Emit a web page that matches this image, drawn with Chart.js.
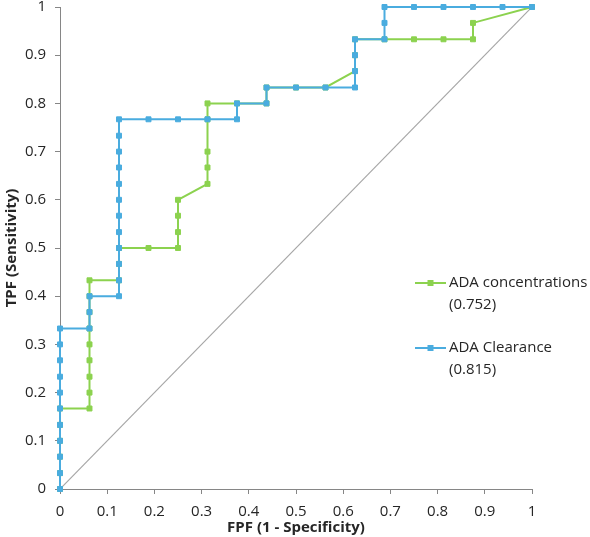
<!DOCTYPE html>
<html>
<head>
<meta charset="utf-8">
<script src="https://cdn.jsdelivr.net/npm/chart.js@4.4.1/dist/chart.umd.min.js"></script>
<style>
  html, body { margin: 0; padding: 0; background: #ffffff; }
  #wrap { width: 590px; height: 537px; position: relative; }
</style>
</head>
<body>
<div id="wrap"><canvas id="c" width="590" height="537"></canvas></div>
<script>
// ---- Data ----
const legendConc = ["ADA concentrations", "(0.752)"];
const legendClear = ["ADA Clearance", "(0.815)"];
const xAxisTitle = "FPF (1 - Specificity)";
const yAxisTitle = "TPF (Sensitivity)";
const tickValues = [0, 0.1, 0.2, 0.3, 0.4, 0.5, 0.6, 0.7, 0.8, 0.9, 1];
const tickLabels = ["0", "0.1", "0.2", "0.3", "0.4", "0.5", "0.6", "0.7", "0.8", "0.9", "1"];

const fprConc = [0, 0, 0, 0, 0, 0, 0.0625, 0.0625, 0.0625, 0.0625, 0.0625, 0.0625, 0.0625, 0.0625, 0.0625,
  0.125, 0.125, 0.125, 0.1875, 0.25, 0.25, 0.25, 0.25, 0.3125, 0.3125, 0.3125, 0.3125, 0.3125,
  0.375, 0.4375, 0.4375, 0.5, 0.5625, 0.625, 0.625, 0.625, 0.6875, 0.75, 0.8125, 0.875, 0.875, 1];
const tprConc = [0, 0.033, 0.067, 0.1, 0.133, 0.167, 0.167, 0.2, 0.233, 0.267, 0.3, 0.333, 0.367, 0.4, 0.433,
  0.433, 0.467, 0.5, 0.5, 0.5, 0.533, 0.567, 0.6, 0.633, 0.667, 0.7, 0.767, 0.8,
  0.8, 0.8, 0.833, 0.833, 0.833, 0.867, 0.9, 0.933, 0.933, 0.933, 0.933, 0.933, 0.967, 1];

const fprClear = [0, 0, 0, 0, 0, 0, 0, 0, 0, 0, 0, 0.0625, 0.0625, 0.0625,
  0.125, 0.125, 0.125, 0.125, 0.125, 0.125, 0.125, 0.125, 0.125, 0.125, 0.125, 0.125,
  0.1875, 0.25, 0.3125, 0.375, 0.375, 0.4375, 0.4375, 0.5, 0.5625, 0.625, 0.625, 0.625, 0.625,
  0.6875, 0.6875, 0.6875, 0.75, 0.8125, 0.875, 0.9375, 1];
const tprClear = [0, 0.033, 0.067, 0.1, 0.133, 0.167, 0.2, 0.233, 0.267, 0.3, 0.333, 0.333, 0.367, 0.4,
  0.4, 0.433, 0.467, 0.5, 0.533, 0.567, 0.6, 0.633, 0.667, 0.7, 0.733, 0.767,
  0.767, 0.767, 0.767, 0.767, 0.8, 0.8, 0.833, 0.833, 0.833, 0.833, 0.867, 0.9, 0.933,
  0.933, 0.967, 1, 1, 1, 1, 1, 1];

const diagX = [0, 1];
const diagY = [0, 1];

// ---- Styles ----
const GREEN = "#8CD24F";
const BLUE = "#4AACDF";
const AXIS = "#868686";
const TEXT = "#262626";
const FONT = "'Open Sans', 'DejaVu Sans', sans-serif";

function pts(xs, ys) { return xs.map((x, i) => ({ x: x, y: ys[i] })); }

const customLegend = {
  id: "customLegend",
  afterDraw(chart) {
    const ctx = chart.ctx;
    const a = chart.chartArea;
    const items = [
      { color: GREEN, lines: legendConc, y: a.top + 276 },
      { color: BLUE, lines: legendClear, y: a.top + 341 }
    ];
    const x0 = a.right - 117;
    ctx.save();
    items.forEach(it => {
      ctx.strokeStyle = it.color;
      ctx.lineWidth = 2;
      ctx.beginPath();
      ctx.moveTo(x0, it.y);
      ctx.lineTo(x0 + 31, it.y);
      ctx.stroke();
      ctx.fillStyle = it.color;
      ctx.fillRect(x0 + 15.5 - 3, it.y - 3, 6, 6);
      ctx.fillStyle = TEXT;
      ctx.font = "15px " + FONT;
      ctx.textAlign = "left";
      ctx.textBaseline = "middle";
      it.lines.forEach((t, k) => ctx.fillText(t, x0 + 34, it.y + k * 22));
    });
    ctx.restore();
  }
};

const tickFmt = (v) => { const i = tickValues.findIndex(t => Math.abs(t - v) < 1e-9); return i >= 0 ? tickLabels[i] : ""; };

new Chart(document.getElementById("c"), {
  type: "scatter",
  data: {
    datasets: [
      {
        label: "ADA Clearance (0.815)",
        data: pts(fprClear, tprClear),
        showLine: true,
        clip: false,
        borderColor: BLUE,
        backgroundColor: BLUE,
        borderWidth: 2,
        pointStyle: "rect",
        pointRadius: 3.5,
        pointBorderWidth: 1,
        pointHoverRadius: 3.5
      },
      {
        label: "ADA concentrations (0.752)",
        data: pts(fprConc, tprConc),
        showLine: true,
        clip: false,
        borderColor: GREEN,
        backgroundColor: GREEN,
        borderWidth: 2,
        pointStyle: "rect",
        pointRadius: 3.5,
        pointBorderWidth: 1,
        pointHoverRadius: 3.5
      },
      {
        label: "Reference",
        data: pts(diagX, diagY),
        showLine: true,
        borderColor: "#A6A6A6",
        borderWidth: 1.2,
        pointRadius: 0
      }
    ]
  },
  options: {
    responsive: false,
    animation: false,
    layout: { padding: { top: 7, right: 58, left: 0, bottom: 0 } },
    plugins: { legend: { display: false }, tooltip: { enabled: false } },
    scales: {
      x: {
        type: "linear",
        min: 0, max: 1,
        afterBuildTicks(s) { s.ticks = tickValues.map(v => ({ value: v })); },
        afterFit(s) { s.height = 48; s.paddingLeft = 0; },
        border: { color: AXIS, width: 1 },
        grid: { drawOnChartArea: false, drawTicks: true, tickLength: 5, color: AXIS },
        ticks: { color: TEXT, font: { family: FONT, size: 15 }, padding: 9, maxRotation: 0, callback: tickFmt },
        title: { display: true, text: xAxisTitle, color: TEXT, font: { family: FONT, size: 15, weight: "bold" }, padding: { top: 0, bottom: 0 } }
      },
      y: {
        type: "linear",
        min: 0, max: 1,
        afterBuildTicks(s) { s.ticks = tickValues.map(v => ({ value: v })); },
        afterFit(s) { s.width = 60; s.paddingTop = 0; s.paddingBottom = 0; },
        border: { color: AXIS, width: 1 },
        grid: { drawOnChartArea: false, drawTicks: true, tickLength: 5, color: AXIS },
        ticks: { color: TEXT, font: { family: FONT, size: 15 }, padding: 9, callback: tickFmt },
        title: { display: true, text: yAxisTitle, color: TEXT, font: { family: FONT, size: 15, weight: "bold" }, padding: { top: 3, bottom: 0 } }
      }
    }
  },
  plugins: [customLegend]
});
</script>
</body>
</html>
